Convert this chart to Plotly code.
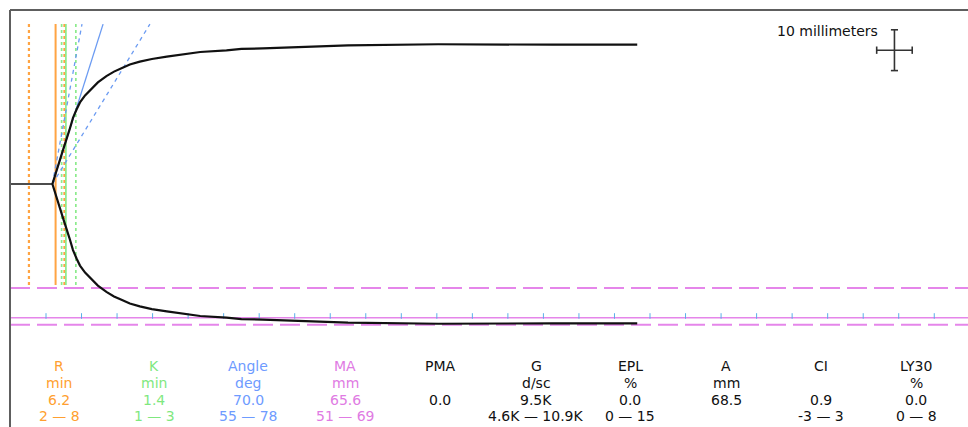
import math
import plotly.graph_objects as go

# ---------------- data ----------------
# clot amplitude trace (time in minutes, full amplitude in mm)
time_min = [5.9, 6.7, 7.4, 8.3, 8.8, 9.3, 9.78, 10.5, 11.2, 12.3, 13.5, 14.57, 15.7,
            16.8, 18.2, 19.9, 22.0, 24.6, 26.7, 30.4, 32.5, 35.5, 41.0, 47.5,
            60.2, 75.2, 76.3, 88.2]
amplitude_mm = [0.0, 8.3, 16.7, 26.5, 32.4, 36.5, 40.0, 43.4, 46.1, 49.8, 52.9, 55.1, 56.9,
                58.6, 60.0, 61.3, 62.4, 63.7, 64.7, 65.5, 66.2, 66.5, 67.3, 68.0,
                68.5, 68.6, 68.3, 68.3]

# marker lines (minutes)
r_line = 6.35
r_range_lines = [2.6, 7.6]
k_line = 7.8
k_range_lines = [7.2, 9.2]

# angle lines (degrees), drawn from the split point of the trace
angle_start = 5.9
angle_value = 70.0
angle_range = [55.0, 78.0]

# MA lines (mm)
ma_value = 65.6
ma_range = [51.0, 69.0]

# time ticks along the MA line (minutes)
tick_minutes = [5, 10, 15, 20, 25, 30, 35, 40, 45, 50, 55, 60, 65, 70, 75, 80,
                85, 90, 95, 100, 105, 110, 115, 120, 125, 130]

# results table
col_names = ["R", "K", "Angle", "MA", "PMA", "G", "EPL", "A", "CI", "LY30"]
col_units = ["min", "min", "deg", "mm", "", "d/sc", "%", "mm", "", "%"]
col_values = ["6.2", "1.4", "70.0", "65.6", "0.0", "9.5K", "0.0", "68.5", "0.9", "0.0"]
col_ranges = ["2 \u2014 8", "1 \u2014 3", "55 \u2014 78", "51 \u2014 69", "",
              "4.6K \u2014 10.9K", "0 \u2014 15", "", "-3 \u2014 3", "0 \u2014 8"]

# ---------------- styling ----------------
ORANGE = "#FFA443"
GREEN = "#8CEB8C"
BLUE = "#6B9BF2"
PINK = "#E586EA"
TICKBLUE = "#5AAEEA"
col_colors = ["#FF9F30", "#7FE87F", "#6E9BFF", "#E07BE3",
              "#111111", "#111111", "#111111", "#111111", "#111111", "#111111"]
col_x_px = [59, 154, 248, 345, 440, 536, 630, 726, 821, 916]
row_y_px = [366, 383, 399.5, 415.5]
FONT = "DejaVu Sans"
FS = 14

W, H = 968, 427
ML, MT = 10, 10
X_RANGE = [-0.066, 134.75]
Y_RANGE = [-59.56, 42.65]
V_TOP, V_BOT = 39.2, -24.75

fig = go.Figure()

# vertical R / K lines
def vline(t, color, dash, width):
    fig.add_trace(go.Scatter(x=[t, t], y=[V_BOT, V_TOP], mode="lines",
                             line=dict(color=color, dash=dash, width=width),
                             hoverinfo="skip", showlegend=False))

for t in r_range_lines:
    vline(t, ORANGE, "3px,3px", 2.2)
vline(r_line, ORANGE, "solid", 2)
for t in k_range_lines:
    vline(t, GREEN, "3px,3px", 1.7)
vline(k_line, GREEN, "solid", 1.7)

# MA lines
for m in ma_range:
    fig.add_trace(go.Scatter(x=[X_RANGE[0], X_RANGE[1]], y=[-m / 2, -m / 2], mode="lines",
                             line=dict(color=PINK, dash="20px,7px", width=2),
                             hoverinfo="skip", showlegend=False))
fig.add_trace(go.Scatter(x=[X_RANGE[0], X_RANGE[1]], y=[-ma_value / 2, -ma_value / 2],
                         mode="lines", line=dict(color=PINK, width=1.6),
                         hoverinfo="skip", showlegend=False))

# time ticks
fig.add_trace(go.Scatter(x=tick_minutes, y=[-ma_value / 2 + 0.45] * len(tick_minutes),
                         mode="markers",
                         marker=dict(symbol="line-ns", size=4,
                                     line=dict(color=TICKBLUE, width=1)),
                         hoverinfo="skip", showlegend=False))

# angle lines
def angle_line(deg, dash):
    slope = 2 * math.tan(math.radians(deg))
    t_end = angle_start + V_TOP / slope
    fig.add_trace(go.Scatter(x=[angle_start, t_end], y=[0, V_TOP], mode="lines",
                             line=dict(color=BLUE, dash=dash, width=1.3),
                             hoverinfo="skip", showlegend=False))

for a in angle_range:
    angle_line(a, "4px,4px")
angle_line(angle_value, "solid")

# baseline and trace
fig.add_trace(go.Scatter(x=[X_RANGE[0], time_min[0]], y=[0, 0], mode="lines",
                         line=dict(color="#111111", width=1.5),
                         hoverinfo="skip", showlegend=False))
fig.add_trace(go.Scatter(x=time_min, y=[a / 2 for a in amplitude_mm], mode="lines",
                         line=dict(color="#111111", width=2.2),
                         hoverinfo="skip", showlegend=False))
fig.add_trace(go.Scatter(x=time_min, y=[-a / 2 for a in amplitude_mm], mode="lines",
                         line=dict(color="#111111", width=2.2),
                         hoverinfo="skip", showlegend=False))

# scale bar: 10 mm vertical, 5 min (10 mm at 2 mm/min) horizontal
sb_t, sb_y = 124.4, 32.8
sb_half_t, sb_half_y = 2.5, 5.0
cap_t, cap_y = 0.5, 0.9
SB = "#333333"
for xs, ys in [([sb_t, sb_t], [sb_y - sb_half_y, sb_y + sb_half_y]),
               ([sb_t - sb_half_t, sb_t + sb_half_t], [sb_y, sb_y]),
               ([sb_t - cap_t, sb_t + cap_t], [sb_y + sb_half_y] * 2),
               ([sb_t - cap_t, sb_t + cap_t], [sb_y - sb_half_y] * 2),
               ([sb_t - sb_half_t] * 2, [sb_y - cap_y, sb_y + cap_y]),
               ([sb_t + sb_half_t] * 2, [sb_y - cap_y, sb_y + cap_y])]:
    fig.add_trace(go.Scatter(x=xs, y=ys, mode="lines", line=dict(color=SB, width=1.6),
                             hoverinfo="skip", showlegend=False))

annotations = [dict(x=sb_t - sb_half_t, y=37.5, xref="x", yref="y", xanchor="right",
                    yanchor="middle", xshift=3, showarrow=False, text="10 millimeters",
                    font=dict(family=FONT, size=FS, color="#111111"))]

pw = W - ML
ph = H - MT
rows = [col_names, col_units, col_values, col_ranges]
for r, row in enumerate(rows):
    for c, txt in enumerate(row):
        if not txt:
            continue
        annotations.append(dict(
            x=(col_x_px[c] - ML) / pw, y=(H - row_y_px[r]) / ph,
            xref="paper", yref="paper", xanchor="center", yanchor="middle",
            showarrow=False, text=txt,
            font=dict(family=FONT, size=FS, color=col_colors[c])))

shapes = [
    dict(type="line", xref="paper", yref="paper", x0=0, x1=0, y0=-0.05, y1=1,
         line=dict(color="#5e5e5e", width=2)),
    dict(type="line", xref="paper", yref="paper", x0=0, x1=1.05, y0=1, y1=1,
         line=dict(color="#5e5e5e", width=2)),
]

fig.update_layout(
    width=W, height=H,
    margin=dict(l=ML, r=0, t=MT, b=0),
    paper_bgcolor="white", plot_bgcolor="white",
    xaxis=dict(range=X_RANGE, visible=False, fixedrange=True),
    yaxis=dict(range=Y_RANGE, visible=False, fixedrange=True),
    annotations=annotations, shapes=shapes, showlegend=False,
)

fig.write_html("out.html", config={"displayModeBar": False},
               post_script="document.body.style.margin='0';")
